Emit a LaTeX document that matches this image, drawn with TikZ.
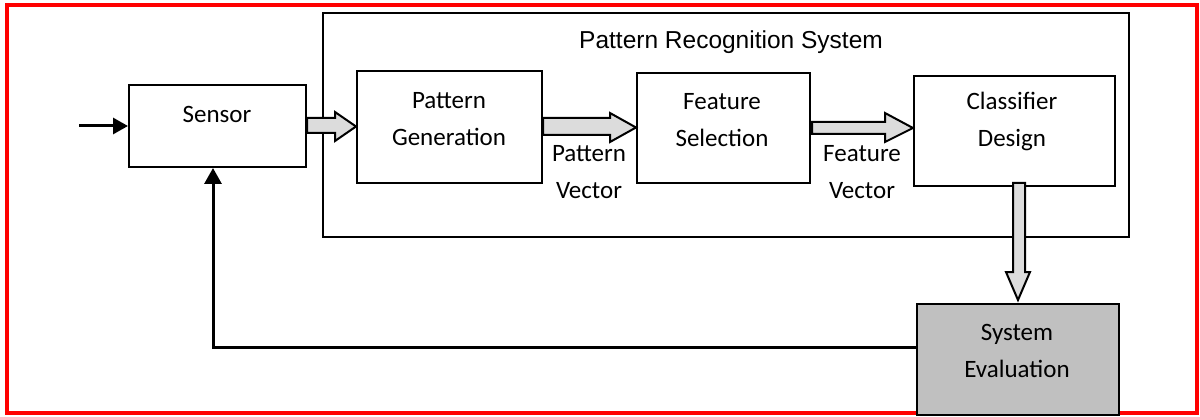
\documentclass[tikz,border=0pt]{standalone}
\usepackage{fontspec}
\setmainfont{Carlito}
\newfontfamily\titlefont{Liberation Sans}
\usetikzlibrary{arrows.meta,calc}
\definecolor{arrowgray}{HTML}{DCDCDC}
\definecolor{evalgray}{HTML}{C0C0C0}
\begin{document}
\begin{tikzpicture}[x=1pt,y=-1pt,
  box/.style={draw=black,line width=2pt,anchor=north west,inner sep=0pt},
  txt/.style={align=center,font=\fontsize{25}{37}\selectfont,inner sep=0pt},
  blockarrow/.style={draw=black,line width=2pt,fill=arrowgray,line join=miter},
  fbline/.style={draw=black,line width=3pt,-{Triangle[length=16pt,width=17pt]}}
  ]
\useasboundingbox (0,0) rectangle (1200,417);
% red frame
\draw[red,line width=4pt] (7,5) rectangle (1197,413);
% system box
\node[box,line width=1.6pt,minimum width=806pt,minimum height=224pt] (prs) at (322,12) {};
\node[txt,font=\titlefont\fontsize{24.5}{30}\selectfont] (prslabel) at (731,42) {Pattern Recognition System};
% boxes
\node[box,minimum width=177pt,minimum height=82pt] (sensor) at (128,84) {};
\node[box,minimum width=185pt,minimum height=112pt] (pg) at (356,70) {};
\node[box,minimum width=173pt,minimum height=110pt] (fs) at (636,72) {};
\node[box,minimum width=201pt,minimum height=110pt] (cd) at (913,75) {};
\node[box,fill=evalgray,minimum width=202pt,minimum height=111pt] (se) at (916,303) {};
% texts
\node[txt] (sensortxt) at (217,114) {Sensor};
\node[txt] (pgtxt) at (449,119) {Pattern\\Generation};
\node[txt] (fstxt) at (722,120) {Feature\\Selection};
\node[txt] (cdtxt) at (1012,121) {Classifier\\Design};
\node[txt] (setxt) at (1017,351) {System\\Evaluation};
\node[txt] (pvtxt) at (589,172) {Pattern\\Vector};
\node[txt] (fvtxt) at (862,172) {Feature\\Vector};
% block arrows
\draw[blockarrow] (sensor.east |- 0,118) -- (335,118) -- (335,112) -- (pg.west |- 0,126.5)
  -- (335,141) -- (335,133) -- (sensor.east |- 0,133) -- cycle;
\draw[blockarrow] (pg.east |- 0,118) -- (610,118) -- (610,113) -- (fs.west |- 0,127.5)
  -- (610,142) -- (610,135) -- (pg.east |- 0,135) -- cycle;
\draw[blockarrow] (812,122) -- (885,122) -- (885,113) -- (cd.west |- 0,128)
  -- (885,142) -- (885,134) -- (812,134) -- cycle;
\draw[blockarrow] (1013,183) -- (1013,272) -- (1006,272) -- (1018,300)
  -- (1030,272) -- (1025,272) -- (1025,183) -- cycle;
% input arrow
\coordinate (in) at (79,126);
\draw[fbline,-{Triangle[length=15pt,width=16pt]}] (in) -- (sensor.west |- in);
% feedback
\coordinate (fbcorner) at (213,347);
\draw[fbline] (se.west |- fbcorner) -- (fbcorner) -- (fbcorner |- sensor.south);
\end{tikzpicture}
\end{document}
